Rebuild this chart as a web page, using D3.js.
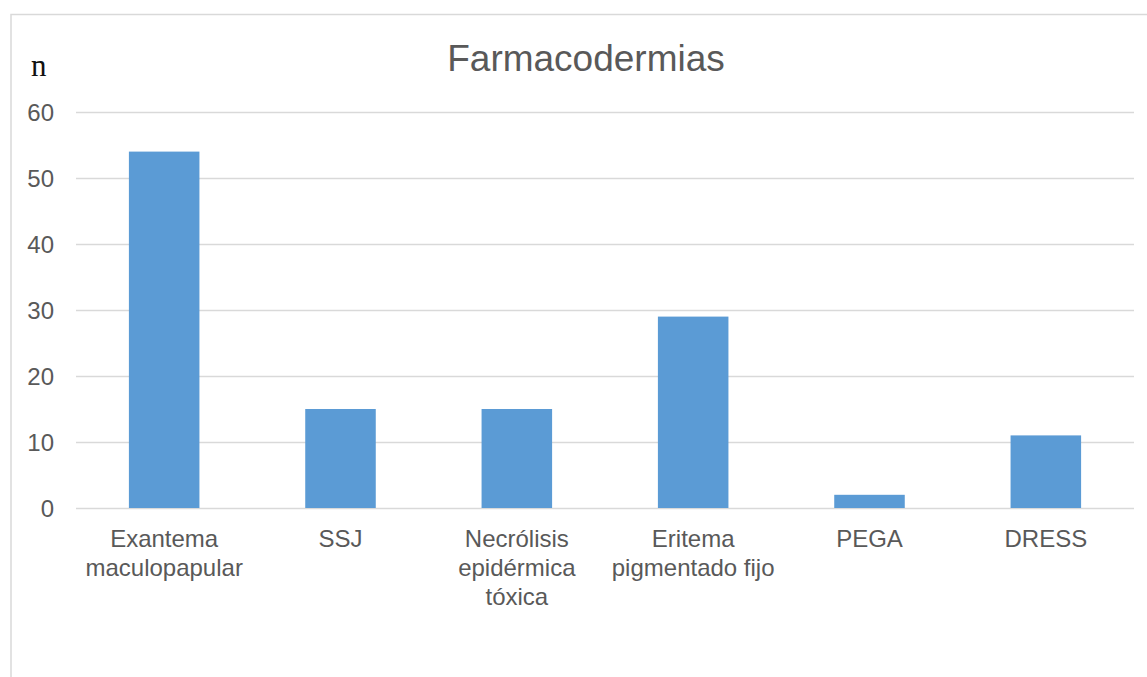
<!DOCTYPE html>
<html>
<head>
<meta charset="utf-8">
<script src="https://cdn.jsdelivr.net/npm/d3@7"></script>
<style>
  html, body { margin: 0; padding: 0; background: #fff; }
  svg { display: block; }
  text { font-family: "Liberation Sans", Arial, Helvetica, sans-serif; }
</style>
</head>
<body>
<svg id="chart" width="1147" height="677"></svg>
<script>
// Farmacodermias: number of cases by type of drug eruption
const categories = [
  ["Exantema", "maculopapular"],
  ["SSJ"],
  ["Necrólisis", "epidérmica", "tóxica"],
  ["Eritema", "pigmentado fijo"],
  ["PEGA"],
  ["DRESS"]
];
const values = [54, 15, 15, 29, 2, 11];
const yTicks = [0, 10, 20, 30, 40, 50, 60];
const chartTitle = "Farmacodermias";
const yAxisLabel = "n";

const W = 1147, H = 677;
const svg = d3.select("#chart");

const textColor = "#595959";
const gridColor = "#d9d9d9";
const barColor = "#5b9bd5";

// outer chart frame
svg.append("rect")
  .attr("x", 11).attr("y", 14.5)
  .attr("width", W + 20).attr("height", H + 20)
  .attr("fill", "none")
  .attr("stroke", gridColor)
  .attr("stroke-width", 1.5);

const margin = { left: 76, right: 13, top: 112, bottom: 169 };
const plotW = W - margin.left - margin.right;
const plotH = H - margin.top - margin.bottom;

const keys = categories.map(c => c.join(" "));

const x = d3.scaleBand()
  .domain(keys)
  .range([margin.left, margin.left + plotW])
  .paddingInner(0.6)
  .paddingOuter(0.3);

const y = d3.scaleLinear()
  .domain([0, 60])
  .range([margin.top + plotH, margin.top]);

// horizontal gridlines
const yAxis = d3.axisLeft(y)
  .tickValues(yTicks)
  .tickSize(-plotW)
  .tickPadding(22)
  .tickFormat(d3.format("d"));

const gy = svg.append("g")
  .attr("transform", `translate(${margin.left},0)`)
  .call(yAxis);
gy.select(".domain").remove();
gy.selectAll(".tick line")
  .attr("stroke", gridColor)
  .attr("stroke-width", 1.5);
gy.selectAll(".tick text")
  .attr("fill", textColor)
  .style("font-size", "24px")
  .attr("dy", "0.35em");

// bars
svg.append("g")
  .selectAll("rect")
  .data(values)
  .join("rect")
  .attr("x", (d, i) => x(keys[i]))
  .attr("width", x.bandwidth())
  .attr("y", d => y(d))
  .attr("height", d => y(0) - y(d))
  .attr("fill", barColor);

// category labels (multi-line)
const labels = svg.append("g")
  .selectAll("text")
  .data(categories)
  .join("text")
  .attr("text-anchor", "middle")
  .attr("fill", textColor)
  .style("font-size", "24px")
  .attr("x", (d, i) => x(keys[i]) + x.bandwidth() / 2)
  .attr("y", y(0) + 39);

labels.selectAll("tspan")
  .data(d => d)
  .join("tspan")
  .attr("x", function () { return d3.select(this.parentNode).attr("x"); })
  .attr("dy", (d, i) => i === 0 ? 0 : 29)
  .text(d => d);

// title
svg.append("text")
  .attr("x", 586)
  .attr("y", 71)
  .attr("text-anchor", "middle")
  .attr("fill", textColor)
  .style("font-size", "37px")
  .text(chartTitle);

// y axis unit label
svg.append("text")
  .attr("x", 31)
  .attr("y", 76)
  .attr("fill", "#111")
  .style("font-family", "'Liberation Serif', 'Times New Roman', serif")
  .style("font-size", "31px")
  .text(yAxisLabel);
</script>
</body>
</html>
